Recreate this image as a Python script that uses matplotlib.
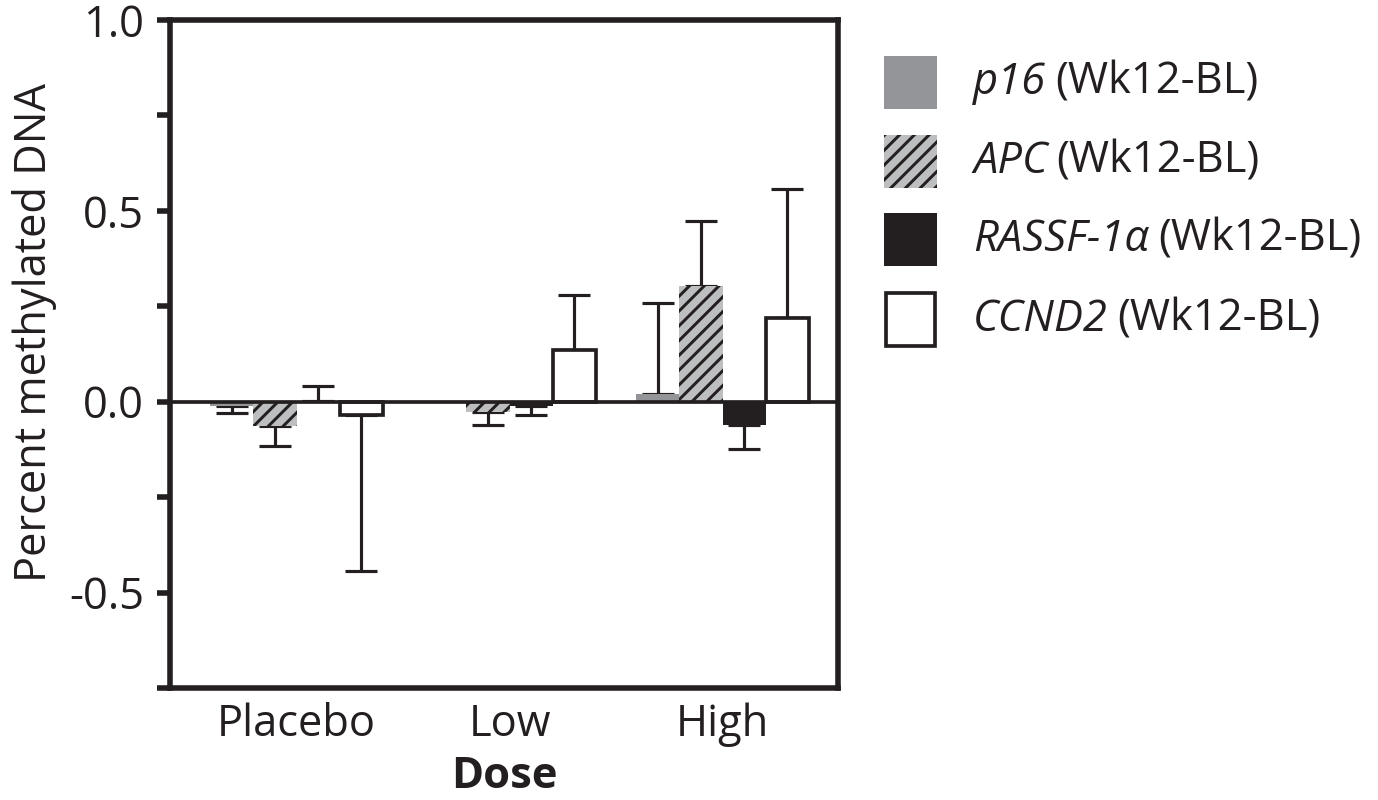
import matplotlib
matplotlib.use("Agg")
import matplotlib.pyplot as plt
from matplotlib.patches import Rectangle
import numpy as np

plt.rcParams['font.family'] = ['Open Sans', 'DejaVu Sans']
plt.rcParams['hatch.linewidth'] = 1.6

doses = ["Placebo", "Low", "High"]
genes = ["p16", "APC", "RASSF-1α", "CCND2"]
p16_vals = [-0.010, 0.000, 0.020]
p16_err = [0.020, 0.000, 0.238]
apc_vals = [-0.063, -0.028, 0.302]
apc_err = [0.054, 0.032, 0.172]
rassf_vals = [0.002, -0.010, -0.062]
rassf_err = [0.040, 0.025, 0.063]
ccnd2_vals = [-0.034, 0.135, 0.219]
ccnd2_err = [0.409, 0.145, 0.338]

vals = [p16_vals, apc_vals, rassf_vals, ccnd2_vals]
errs = [p16_err, apc_err, rassf_err, ccnd2_err]
faces = ["#939598", "#bcbec0", "#231f20", "white"]
hatches = [None, "///", None, None]
K = "#231f20"
edges = ["none", K, K, K]
elw = [0, 0, 0, 2.0]
FS = 23.5

DPI = 400 / 3
fig = plt.figure(figsize=(1378 / DPI, 800 / DPI), dpi=DPI)
ax = fig.add_axes([170 / 1378, 1 - 688 / 800, (838 - 170) / 1378, (688 - 20) / 800])

x = np.arange(len(doses))
w = 0.203
for i in range(4):
    xs = x + (i - 1.5) * w
    v = np.array(vals[i])
    e = np.array(errs[i])
    ax.bar(xs, v, width=w, color=faces[i], edgecolor=edges[i], linewidth=elw[i],
           hatch=hatches[i], zorder=3)
    lower = np.where(v < 0, e, 0)
    upper = np.where(v >= 0, e, 0)
    mask = e > 0
    ax.errorbar(xs[mask], v[mask], yerr=[lower[mask], upper[mask]], fmt='none',
                ecolor=K, elinewidth=1.7, capsize=8.5, capthick=1.7, zorder=2)

ax.axhline(0, color=K, lw=2.0, zorder=4)
ax.set_xlim(-0.594, 2.542)
ax.set_ylim(-0.75, 1.0)
ax.set_yticks([1.0, 0.5, 0.0, -0.5])
ax.set_yticklabels(["1.0", "0.5", "0.0", "-0.5"])
ax.set_yticks([0.75, 0.25, -0.25, -0.75], minor=True)
ax.set_xticks(x)
ax.set_xticklabels(doses)
for s in ax.spines.values():
    s.set_linewidth(3.0)
    s.set_color(K)
ax.tick_params(axis='y', which='both', length=7, width=3.0, color=K, labelsize=FS, pad=7, labelcolor=K)
ax.tick_params(axis='x', length=0, labelsize=FS, pad=8, labelcolor=K)
ax.set_xlabel("Dose", fontsize=FS, fontweight='bold', color=K, labelpad=4)
ax.set_ylabel("Percent methylated DNA", fontsize=FS, color=K)
ax.yaxis.set_label_coords((57 - 170) / 668, (688 - 332) / 668)

# legend drawn manually
rows_y = [56, 135, 213, 293]
sq = 53
for i in range(4):
    y0 = rows_y[i]
    if i == 3:
        r = Rectangle((886 / 1378, 1 - (y0 + sq) / 800), 49 / 1378, sq / 800,
                      transform=fig.transFigure, facecolor='white', edgecolor=K, linewidth=2.0)
    else:
        r = Rectangle((884 / 1378, 1 - (y0 + sq) / 800), sq / 1378, sq / 800,
                      transform=fig.transFigure, facecolor=faces[i], edgecolor=edges[i],
                      linewidth=0, hatch=hatches[i])
    fig.add_artist(r)

renderer = fig.canvas.get_renderer()
for i in range(4):
    yc = 1 - (rows_y[i] + sq / 2) / 800
    t1 = fig.text(973 / 1378, yc, genes[i], fontsize=FS, fontstyle='italic', va='center',
                  ha='left', color=K)
    bb = t1.get_window_extent(renderer)
    fig.text((bb.x1 + 9) / 1378, yc, "(Wk12-BL)", fontsize=FS, va='center', ha='left', color=K)

fig.savefig("out.png", dpi=DPI)
